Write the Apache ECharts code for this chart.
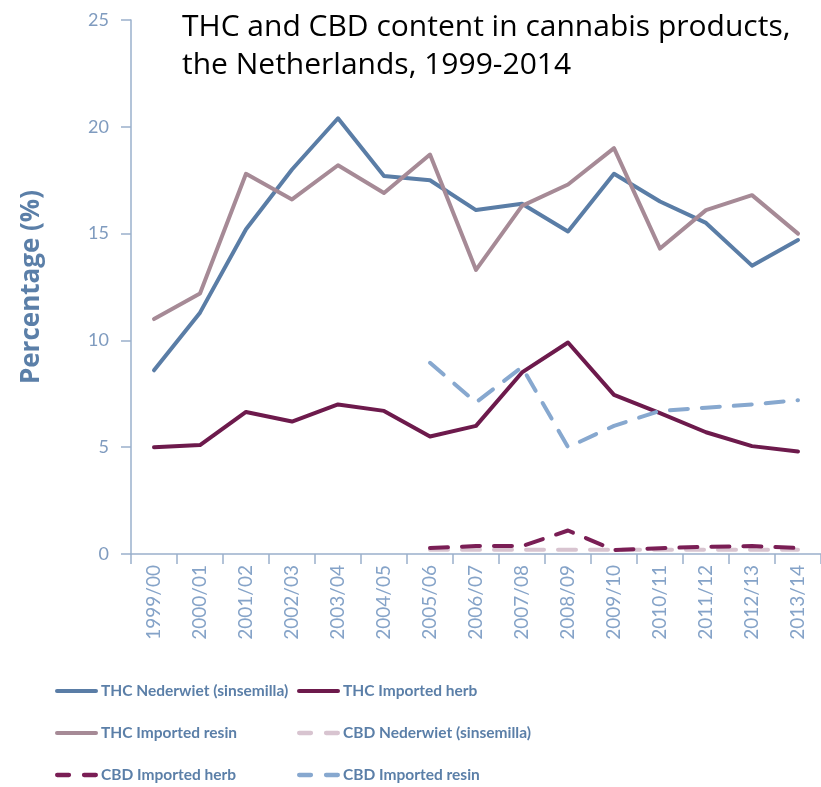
<!DOCTYPE html>
<html><head><meta charset="utf-8">
<script src="https://cdn.jsdelivr.net/npm/echarts@6/dist/echarts.min.js"></script>
<style>html,body{margin:0;padding:0;background:#fff}#c{width:821px;height:787px}</style>
</head><body><div id="c"></div>
<script>
var categories = ['1999/00','2000/01','2001/02','2002/03','2003/04','2004/05','2005/06','2006/07','2007/08','2008/09','2009/10','2010/11','2011/12','2012/13','2013/14'];
var thcNederwiet = [8.6, 11.3, 15.2, 18.0, 20.4, 17.7, 17.5, 16.1, 16.4, 15.1, 17.8, 16.5, 15.5, 13.5, 14.7];
var thcImportedHerb = [5.0, 5.1, 6.65, 6.2, 7.0, 6.7, 5.5, 6.0, 8.5, 9.9, 7.45, 6.6, 5.7, 5.05, 4.8];
var thcImportedResin = [11.0, 12.2, 17.8, 16.6, 18.2, 16.9, 18.7, 13.3, 16.3, 17.3, 19.0, 14.3, 16.1, 16.8, 15.0];
var cbdNederwiet = [null, null, null, null, null, null, 0.2, 0.2, 0.2, 0.2, 0.2, 0.2, 0.2, 0.2, 0.2];
var cbdImportedHerb = [null, null, null, null, null, null, 0.28, 0.37, 0.37, 1.1, 0.19, 0.27, 0.34, 0.37, 0.28];
var cbdImportedResin = [null, null, null, null, null, null, 8.95, 7.1, 8.75, 5.0, 6.0, 6.7, 6.85, 7.0, 7.2];
var yTicks = [0, 5, 10, 15, 20, 25];

var labelBlue = '#5B7FA8';
var axisColor = '#9AB0CC';
var SOLID_ICON = 'path://M2,0H41A2,2 0 0 1 41,4H2A2,2 0 0 1 2,0Z';
var DASH_ICON = 'path://M2,0H13A2,2 0 0 1 13,4H2A2,2 0 0 1 2,0Z M27,0H38A2,2 0 0 1 38,4H27A2,2 0 0 1 27,0Z';
var styles = {
  'THC Nederwiet (sinsemilla)': { color: '#5A7DA6', dashed: false },
  'THC Imported herb': { color: '#6D1A4C', dashed: false },
  'THC Imported resin': { color: '#A68A96', dashed: false },
  'CBD Nederwiet (sinsemilla)': { color: '#D8C4D0', dashed: true },
  'CBD Imported herb': { color: '#7A1E55', dashed: true },
  'CBD Imported resin': { color: '#87A8CF', dashed: true }
};
function mk(name, data) {
  var s = styles[name];
  return {
    name: name, type: 'line', data: data, symbol: 'none', connectNulls: false,
    lineStyle: { color: s.color, width: 4, type: s.dashed ? [18, 14] : 'solid', cap: 'round', join: 'round' },
    itemStyle: { color: s.color },
    emphasis: { disabled: true }
  };
}
// legend grid: [name, left, top]
var legendLayout = [
  ['THC Nederwiet (sinsemilla)', 55, 682],
  ['THC Imported herb', 297, 682],
  ['THC Imported resin', 55, 724],
  ['CBD Nederwiet (sinsemilla)', 297, 724],
  ['CBD Imported herb', 55, 766],
  ['CBD Imported resin', 297, 766]
];
var legends = legendLayout.map(function (l) {
  return {
    data: [{ name: l[0], icon: styles[l[0]].dashed ? DASH_ICON : SOLID_ICON }],
    left: l[1], top: l[2], padding: 0,
    itemWidth: 43, itemHeight: 5, selectedMode: false,
    textStyle: { fontFamily: 'Lato', fontSize: 15.5, fontWeight: 'bold', color: labelBlue, lineHeight: 18, padding: [0, 0, 0, -2] }
  };
});
var chart = echarts.init(document.getElementById('c'));
chart.setOption({
  animation: false,
  title: {
    text: 'THC and CBD content in cannabis products,\nthe Netherlands, 1999-2014',
    left: 177, top: 3,
    textStyle: { fontFamily: 'Open Sans', fontSize: 30, fontWeight: 'normal', color: '#000', lineHeight: 38 }
  },
  grid: { left: 131, right: 0, top: 20, bottom: 233, containLabel: false },
  xAxis: {
    type: 'category', data: categories, boundaryGap: true,
    axisLine: { lineStyle: { color: axisColor, width: 1.5 } },
    axisTick: { show: true, length: 10, lineStyle: { color: axisColor, width: 1.5 } },
    axisLabel: { rotate: 90, fontFamily: 'Lato', fontSize: 19, color: '#85A3C8', margin: 11, interval: 0 },
    splitLine: { show: false }
  },
  yAxis: {
    type: 'value', min: yTicks[0], max: yTicks[yTicks.length - 1], interval: 5,
    name: 'Percentage (%)', nameLocation: 'middle', nameGap: 86, nameRotate: 90,
    nameTextStyle: { fontFamily: 'Open Sans', fontSize: 26, fontWeight: 'bold', color: labelBlue },
    axisLine: { show: true, lineStyle: { color: axisColor, width: 1.5 } },
    axisTick: { show: true, length: 10, lineStyle: { color: axisColor, width: 1.5 } },
    axisLabel: { fontFamily: 'Lato', fontSize: 18, color: '#7F9BBF', margin: 22 },
    splitLine: { show: false }
  },
  legend: legends,
  series: [
    mk('THC Nederwiet (sinsemilla)', thcNederwiet),
    mk('THC Imported herb', thcImportedHerb),
    mk('THC Imported resin', thcImportedResin),
    mk('CBD Nederwiet (sinsemilla)', cbdNederwiet),
    mk('CBD Imported herb', cbdImportedHerb),
    mk('CBD Imported resin', cbdImportedResin)
  ]
});
</script></body></html>
